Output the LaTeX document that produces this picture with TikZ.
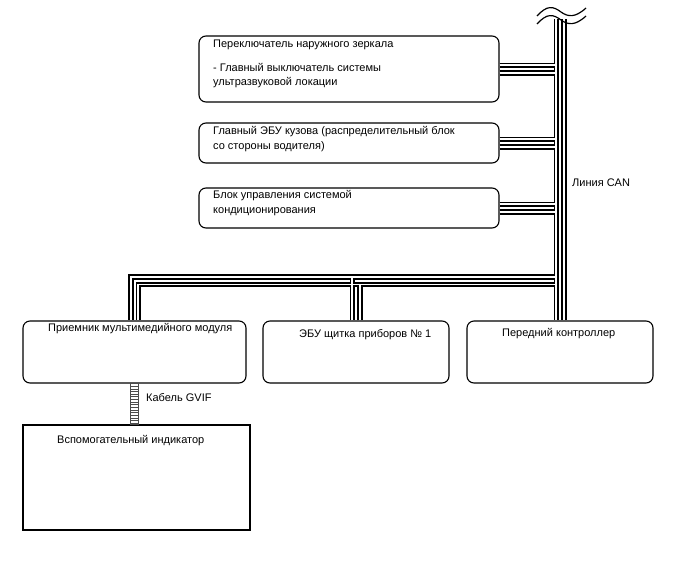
\documentclass[tikz,border=0pt]{standalone}
\usepackage{fontspec}
\setmainfont{Liberation Sans}
\usetikzlibrary{calc}

\tikzset{
  unit/.style={draw, line width=1.1pt, rounded corners=7pt, inner sep=0pt},
  panel/.style={draw, line width=1.1pt, inner sep=0pt},
  txt/.style={anchor=north west, inner sep=0pt, align=left, font=\fontsize{11}{14.5}\selectfont},
  canblack/.style={line width=5.5pt},
  canwhite/.style={line width=1.8pt, white},
  brk/.style={line width=1.2pt},
}

\begin{document}
\begin{tikzpicture}[x=1pt, y=-1pt]
  \useasboundingbox (0,0) rectangle (688,560);
  \node[unit, minimum width=300pt, minimum height=66pt] (mirror) at (349,69) {};
  \node[unit, minimum width=300pt, minimum height=40pt] (body) at (349,143) {};
  \node[unit, minimum width=300pt, minimum height=40pt] (climate) at (349,208) {};
  \node[unit, minimum width=223pt, minimum height=62pt] (media) at (134.5,352) {};
  \node[unit, minimum width=186pt, minimum height=62pt] (ecu) at (356,352) {};
  \node[unit, minimum width=186pt, minimum height=62pt] (front) at (560,352) {};
  \node[panel, minimum width=227pt, minimum height=105pt] (aux) at (136.5,477.5) {};

  \coordinate (busL) at (556.25,19);
  \coordinate (busR) at (563.75,19);
  \coordinate (hu) at (556.25,277);
  \coordinate (hl) at (556.25,284.5);

  \foreach \w in {canblack,canwhite}{
    \draw[\w] (busL) -- (busL |- front.north);
    \draw[\w] (busR) -- (busR |- front.north);
    \foreach \b in {mirror,body,climate}{
      \draw[\w] ([yshift=3.75pt]\b.east) -- ([yshift=3.75pt]\b.east -| busL);
      \draw[\w] ([yshift=-3.75pt]\b.east) -- ([yshift=-3.75pt]\b.east -| busL);
    }
    \draw[\w] (hu) -| ([xshift=-3.75pt]media.north);
    \draw[\w] (hl) -| ([xshift=3.75pt]media.north);
    \draw[\w] ([xshift=-3.75pt]ecu.north) -- ([xshift=-3.75pt]ecu.north |- hu);
    \draw[\w] ([xshift=3.75pt]ecu.north) -- ([xshift=3.75pt]ecu.north |- hl);
  }

  \draw[brk] (537,16) .. controls (547,5) and (553,6) .. (561,12) .. controls (568,17) and (575,18) .. (586,8);
  \draw[brk, shift={(0,8)}] (537,16) .. controls (547,5) and (553,6) .. (561,12) .. controls (568,17) and (575,18) .. (586,8);

  \draw[gray!60!black, line width=0.8pt] ([xshift=-4pt]media.south) rectangle ([xshift=4pt]media.south |- aux.north);
  \foreach \k in {1,...,15}
    \draw[gray!60!black, line width=0.7pt] ($(media.south)+(-4,\k*2.65)$) -- ++(8,0);

  \node[txt] (mirrortxt) at (213,39.5) {Переключатель наружного зеркала\\[9.5pt]- Главный выключатель системы\\ультразвуковой локации};
  \node[txt] (bodytxt) at (213,126.5) {Главный ЭБУ кузова (распределительный блок\\со стороны водителя)};
  \node[txt] (climatetxt) at (213,190.5) {Блок управления системой\\кондиционирования};
  \node[txt] (cantxt) at (572,178.5) {Линия CAN};
  \node[txt] (mediatxt) at (48,323.5) {Приемник мультимедийного модуля};
  \node[txt] (ecutxt) at (299,329.5) {ЭБУ щитка приборов № 1};
  \node[txt] (fronttxt) at (502,328.5) {Передний контроллер};
  \node[txt] (gviftxt) at (146,393.5) {Кабель GVIF};
  \node[txt] (auxtxt) at (57,435.5) {Вспомогательный индикатор};
\end{tikzpicture}
\end{document}
